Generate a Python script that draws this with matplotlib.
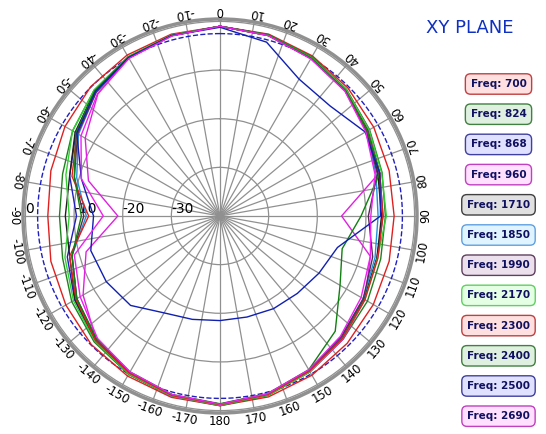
import numpy as np
import matplotlib
matplotlib.use("Agg")
import matplotlib.pyplot as plt

angles_deg = list(range(0, 360, 15))
freqs = [700, 824, 868, 960, 1710, 1850, 1990, 2170, 2300, 2400, 2500, 2690]
colors = ['#e02020', '#208020', '#2020c0', '#e020e0', '#202020', '#2090e0',
          '#503050', '#30d030', '#e02020', '#108010', '#1020b0', '#f020f0']
face = ['#ffe0e0', '#e0f0e0', '#e0e0ff', '#ffe0ff', '#e0e0e0', '#e0f4ff',
        '#ece0ec', '#e4ffe4', '#ffe0e0', '#e0f0e0', '#e0e0ff', '#ffe0ff']
edge = ['#c04040', '#408040', '#4040a0', '#c040c0', '#404040', '#60a0e0',
        '#604060', '#60d060', '#c04040', '#408040', '#4040a0', '#c040c0']

# dB values at 0,15,...,345 deg (clockwise from top)
data = {
    700:  [-1.0, -1.3, -2.0, -2.8, -3.5, -4.0, -4.2, -4.0, -3.6, -3.0, -2.2, -1.5, -1.0, -1.4, -2.0, -2.6, -3.4, -4.0, -4.6, -4.0, -3.2, -2.4, -1.8, -1.3],
    824:  [-1.0, -1.4, -2.2, -3.2, -4.5, -5.5, -6.0, -5.8, -5.0, -4.2, -3.0, -1.8, -1.0, -1.6, -2.4, -3.4, -4.8, -6.5, -7.0, -6.5, -5.0, -3.4, -2.2, -1.5],
    868:  [-1.0, -1.5, -2.5, -3.4, -4.8, -6.0, -6.5, -6.6, -5.8, -4.5, -3.2, -2.0, -1.2, -1.7, -2.6, -3.6, -5.5, -7.5, -10.5, -8.0, -5.8, -3.8, -2.4, -1.6],
    960:  [-1.0, -1.5, -2.4, -3.3, -4.6, -6.2, -15.0, -8.0, -5.6, -4.2, -3.0, -2.0, -1.1, -1.6, -2.6, -4.0, -7.5, -11.5, -19.0, -12.0, -8.0, -4.5, -2.5, -1.5],
    1710: [-1.0, -1.5, -2.5, -3.5, -5.0, -6.4, -6.8, -6.6, -5.8, -4.6, -3.3, -2.0, -1.2, -1.8, -2.7, -3.8, -5.6, -8.0, -8.2, -8.0, -5.6, -3.6, -2.4, -1.6],
    1850: [-1.0, -1.6, -2.6, -3.6, -5.2, -6.8, -7.5, -7.0, -6.0, -4.8, -3.4, -2.1, -1.3, -1.9, -2.8, -4.0, -6.0, -8.5, -12.5, -9.5, -6.4, -4.0, -2.5, -1.6],
    1990: [-1.0, -1.6, -2.6, -3.6, -5.2, -6.5, -9.5, -7.5, -6.0, -4.8, -3.4, -2.1, -1.3, -1.9, -2.8, -4.0, -6.0, -8.5, -12.0, -9.0, -6.2, -4.0, -2.5, -1.6],
    2170: [-1.0, -1.5, -2.4, -3.3, -4.6, -5.6, -5.8, -6.5, -5.6, -4.4, -3.0, -1.9, -1.1, -1.7, -2.5, -3.6, -5.2, -7.0, -9.0, -7.2, -5.0, -3.4, -2.2, -1.5],
    2300: [-1.0, -1.6, -2.6, -3.6, -5.0, -6.0, -6.5, -6.4, -5.6, -4.4, -3.2, -2.0, -1.2, -1.8, -2.7, -3.8, -5.8, -8.0, -13.0, -8.5, -6.0, -3.8, -2.4, -1.6],
    2400: [-1.0, -1.5, -2.5, -3.5, -5.0, -6.0, -11.0, -14.0, -11.5, -6.5, -3.5, -2.2, -1.4, -2.0, -3.0, -4.2, -6.0, -8.5, -11.5, -9.0, -5.8, -3.6, -2.3, -1.6],
    2500: [-1.2, -3.0, -7.5, -8.0, -5.5, -6.0, -7.0, -15.0, -16.5, -17.5, -18.0, -18.5, -18.5, -18.0, -17.0, -14.0, -13.0, -12.5, -14.0, -10.5, -6.0, -3.8, -2.4, -1.6],
    2690: [-1.0, -1.6, -2.7, -3.7, -5.4, -7.0, -9.0, -8.0, -6.5, -5.0, -3.5, -2.2, -1.3, -2.0, -3.0, -4.4, -6.8, -9.0, -16.0, -10.5, -7.0, -4.4, -2.6, -1.7],
}

R = 197
fig = plt.figure(figsize=(5.46, 4.34), dpi=100)
ax = fig.add_axes([(220 - R) / 546, (434 - 216 - R) / 434, 2 * R / 546, 2 * R / 434],
                  projection='polar')
ax.set_theta_zero_location('N')
ax.set_theta_direction(-1)
ax.set_ylim(-40, 0.5)
ax.set_xticks(np.deg2rad(np.arange(0, 360, 10)))
ax.set_xticklabels([])
ax.set_yticks([-30, -20, -10, 0])
ax.set_yticklabels(['-30', '-20', '-10', '0'], fontsize=10)
ax.set_rlabel_position(270)
ax.grid(color='#909090', linewidth=0.9)
ax.spines['polar'].set_color('#909090')
ax.spines['polar'].set_linewidth(2.5)

for a in range(0, 360, 10):
    lab = a if a <= 180 else a - 360
    ax.text(np.deg2rad(a), 2.3, str(lab), rotation=180 - a, ha='center', va='center',
            rotation_mode='anchor', fontsize=8.5, clip_on=False)

th = np.deg2rad(np.array(angles_deg + [360]))
ax.plot(np.linspace(0, 2 * np.pi, 300), np.full(300, -2.5), '--', color='#2020c0', lw=1)
for f, c in zip(freqs, colors):
    v = data[f]
    ax.plot(th, v + [v[0]], color=c, lw=1)

fig.text(0.86, 0.935, 'XY PLANE', color='#1030c0', fontsize=13, ha='center', va='center')
for i, f in enumerate(freqs):
    y = 1 - (84 + i * 30.2) / 434
    fig.text(0.913, y, f'Freq: {f}', ha='center', va='center', fontsize=7.5,
             fontweight='bold', color='#101060',
             bbox=dict(boxstyle='round,pad=0.5,rounding_size=0.5', fc=face[i], ec=edge[i]))

fig.savefig('out.png', dpi=100)
